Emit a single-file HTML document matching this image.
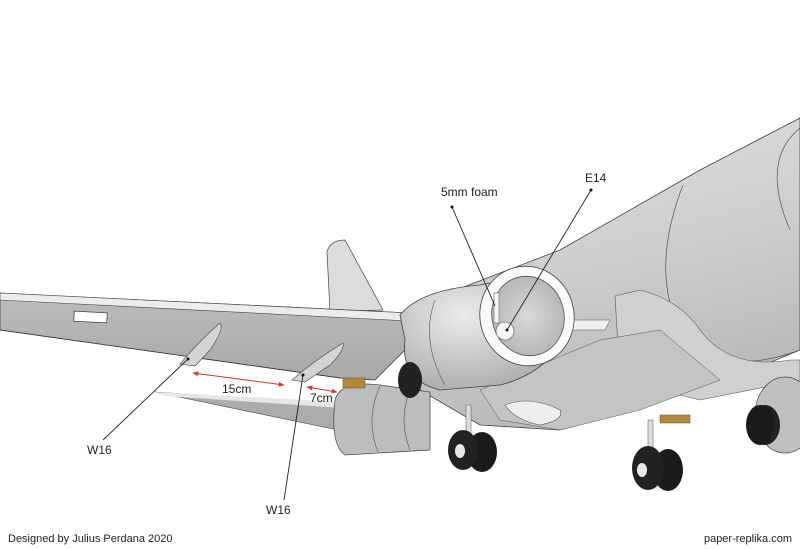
<!DOCTYPE html>
<html><head><meta charset="utf-8"><style>
html,body{margin:0;padding:0;background:#fff;}
svg{display:block;}
text{font-family:"Liberation Sans",Arial,sans-serif;fill:#222;}
</style></head><body>
<svg width="800" height="549" viewBox="0 0 800 549" xmlns="http://www.w3.org/2000/svg">
<defs>
<linearGradient id="fus" x1="0" y1="0" x2="0.3" y2="1">
<stop offset="0" stop-color="#e0e0e0"/><stop offset="0.6" stop-color="#cccccc"/><stop offset="1" stop-color="#b8b8b8"/>
</linearGradient>
<linearGradient id="wing" x1="0" y1="0" x2="0" y2="1">
<stop offset="0" stop-color="#bcbcbc"/><stop offset="1" stop-color="#a8a8a8"/>
</linearGradient>
<radialGradient id="eng" cx="0.4" cy="0.35" r="0.7">
<stop offset="0" stop-color="#ececec"/><stop offset="1" stop-color="#ababab"/>
</radialGradient>
<radialGradient id="inner" cx="0.5" cy="0.5" r="0.6">
<stop offset="0" stop-color="#dadada"/><stop offset="1" stop-color="#b0b0b0"/>
</radialGradient>
<marker id="ar" viewBox="0 0 10 10" refX="9" refY="5" markerWidth="6" markerHeight="6" orient="auto-start-reverse"><path d="M0,1 L10,5 L0,9 z" fill="#e03030"/></marker>
</defs>
<rect width="800" height="549" fill="#fff"/>
<path d="M327,252 Q330,240 345,240 L383,310 L330,312 Z" fill="#dcdcdc" stroke="#444" stroke-width="0.7"/>
<path d="M430,300 L560,250 L700,170 L800,118 L800,350 L740,375 L650,405 L560,430 L480,425 L420,390 Z" fill="url(#fus)" stroke="#444" stroke-width="0.8"/>
<path d="M683,185 Q650,270 680,330 Q720,380 800,350" fill="none" stroke="#555" stroke-width="0.7"/>
<path d="M800,128 Q760,160 790,230" fill="none" stroke="#555" stroke-width="0.7"/>
<path d="M615,296 L640,290 Q680,300 700,330 Q730,370 790,360 L800,360 L800,380 L700,400 L620,380 Z" fill="#d0d0d0" stroke="#555" stroke-width="0.6"/>
<path d="M480,390 L600,340 L660,330 L720,380 L640,410 L560,430 L500,420 Z" fill="#c4c4c4" stroke="#555" stroke-width="0.5"/>
<ellipse cx="785" cy="415" rx="30" ry="38" fill="#c0c0c0" stroke="#444" stroke-width="0.7"/>
<ellipse cx="765" cy="425" rx="15" ry="20" fill="#222"/>
<path d="M0,293 L430,314 L430,325 L375,380 L340,378 L0,330 Z" fill="url(#wing)" stroke="#333" stroke-width="0.7"/>
<path d="M0,293 L430,314 L428,322 L0,300 Z" fill="#ececec" stroke="#444" stroke-width="0.6"/>
<path d="M0,330 L340,378" stroke="#333" stroke-width="0.8" stroke-dasharray="3,1"/>
<rect x="74" y="312" width="33" height="10" fill="#fff" stroke="#333" stroke-width="0.7" transform="rotate(3 90 317)"/>
<path d="M155,392 L343,404 L338,430 Z" fill="#acacac" stroke="#444" stroke-width="0.6"/>
<path d="M155,392 L343,402 L343,408 L165,396 Z" fill="#e6e6e6"/>
<path d="M335,400 Q340,380 380,385 L430,392 L430,450 L345,455 Q330,445 335,400 Z" fill="#bdbdbd" stroke="#444" stroke-width="0.7"/>
<path d="M380,386 Q365,420 378,452 M410,390 Q398,420 410,450" fill="none" stroke="#555" stroke-width="0.6"/>
<rect x="343" y="378" width="22" height="10" fill="#b08a3a" stroke="#553" stroke-width="0.5"/>
<rect x="660" y="415" width="30" height="8" fill="#b08a3a" stroke="#553" stroke-width="0.5"/>
<path d="M400,315 Q420,290 480,285 L530,275 L560,345 Q540,375 500,385 L440,390 Q400,380 405,340 Z" fill="url(#eng)" stroke="#444" stroke-width="0.8"/>
<path d="M435,300 Q420,340 445,385" fill="none" stroke="#555" stroke-width="0.6"/>
<ellipse cx="410" cy="380" rx="12" ry="18" fill="#222"/>
<path d="M565,320 L610,320 L605,330 L565,330 Z" fill="#f0f0f0" stroke="#555" stroke-width="0.5"/>
<ellipse cx="527" cy="316" rx="47" ry="50" fill="#fafafa" stroke="#444" stroke-width="0.8" transform="rotate(-15 527 316)"/>
<ellipse cx="528" cy="316" rx="36" ry="40" fill="url(#inner)" stroke="#444" stroke-width="0.7" transform="rotate(-15 528 316)"/>
<rect x="494" y="293" width="5" height="30" fill="#f4f4f4" stroke="#555" stroke-width="0.5"/>
<circle cx="505" cy="331" r="9" fill="#f6f6f6" stroke="#555" stroke-width="0.6"/>
<path d="M505,405 Q530,395 560,410 Q565,420 540,425 Q515,420 505,405Z" fill="#eee" stroke="#555" stroke-width="0.6"/>
<rect x="466" y="405" width="5" height="32" fill="#ddd" stroke="#555" stroke-width="0.5"/>
<rect x="648" y="420" width="5" height="32" fill="#ddd" stroke="#555" stroke-width="0.5"/>
<ellipse cx="482" cy="452" rx="15" ry="20" fill="#1a1a1a"/>
<ellipse cx="463" cy="450" rx="15" ry="20" fill="#222"/>
<ellipse cx="460" cy="451" rx="5" ry="7" fill="#e8e8e8"/>
<ellipse cx="668" cy="470" rx="15" ry="21" fill="#1a1a1a"/>
<ellipse cx="648" cy="468" rx="16" ry="22" fill="#222"/>
<ellipse cx="642" cy="470" rx="5" ry="7" fill="#e8e8e8"/>
<ellipse cx="760" cy="425" rx="14" ry="20" fill="#1a1a1a"/>
<path d="M180,364 Q200,340 220,323 Q225,328 210,350 L195,366 Z" fill="#d4d4d4" stroke="#444" stroke-width="0.6"/>
<path d="M292,380 Q315,360 343,343 Q345,350 330,365 L305,382 Z" fill="#d4d4d4" stroke="#444" stroke-width="0.6"/>
<g stroke="#222" stroke-width="0.9" fill="none">
<line x1="452" y1="207" x2="495" y2="306"/>
<line x1="591" y1="190" x2="507" y2="330"/>
<line x1="188" y1="359" x2="103" y2="440"/>
<line x1="303" y1="375" x2="284" y2="500"/>
</g>
<g fill="#111"><circle cx="452" cy="207" r="1.5"/><circle cx="591" cy="190" r="1.5"/><circle cx="188" cy="359" r="1.5"/><circle cx="303" cy="375" r="1.5"/><circle cx="507" cy="330" r="1.5"/></g>
<line x1="193" y1="373" x2="284" y2="385" stroke="#e03030" stroke-width="1" marker-start="url(#ar)" marker-end="url(#ar)"/>
<line x1="307" y1="387" x2="337" y2="392" stroke="#e03030" stroke-width="1" marker-start="url(#ar)" marker-end="url(#ar)"/>
<text x="222" y="393" font-size="12">15cm</text>
<text x="310" y="402" font-size="12">7cm</text>
<text x="441" y="196" font-size="12">5mm foam</text>
<text x="585" y="182" font-size="12">E14</text>
<text x="87" y="454" font-size="12">W16</text>
<text x="266" y="514" font-size="12">W16</text>
<text x="8" y="542" font-size="11">Designed by Julius Perdana 2020</text>
<text x="792" y="542" font-size="11" text-anchor="end">paper-replika.com</text>
</svg>
</body></html>
